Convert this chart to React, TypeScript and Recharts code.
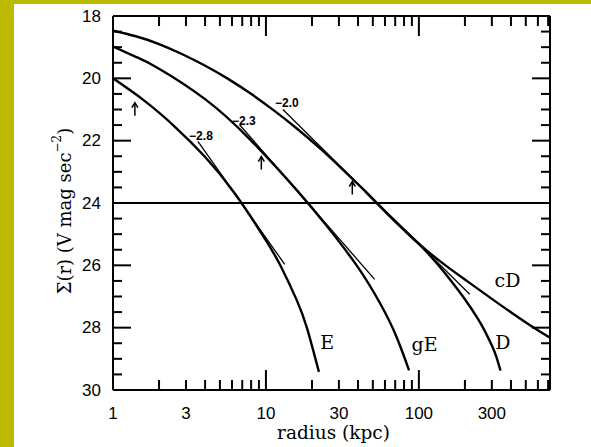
import React from "react";
import { LineChart, Line, XAxis, YAxis, ReferenceLine, ReferenceDot } from "recharts";

// surface-brightness profiles, radius in kpc vs V mag arcsec^-2
const eR = [1, 1.585, 2.51, 3.98, 6.31, 10, 12.6, 15.85, 18.6, 22.2];
const eMag = [20.0, 20.7, 21.53, 22.51, 23.72, 25.2, 26.06, 27.1, 28.03, 29.42];

const gER = [1, 1.41, 2, 3.98, 7.94, 15.85, 25.1, 39.8, 56.2, 70.8, 86.3];
const gEMag = [18.98, 19.31, 19.69, 20.66, 21.98, 23.58, 24.75, 26.05, 27.25, 28.25, 29.37];

const cDR = [1, 1.41, 2, 2.82, 3.98, 5.62, 7.94, 11.2, 15.85, 22.4, 31.6, 44.7, 63.1, 98.5, 150, 210, 330, 536, 720];
const cDMag = [18.47, 18.65, 18.9, 19.22, 19.59, 20.01, 20.49, 21.02, 21.6, 22.23, 22.91, 23.63, 24.37, 25.28, 26.01, 26.53, 27.22, 27.93, 28.32];

// D follows cD in the inner part, then drops
const dR = [44.7, 63.1, 98.5, 130, 165, 200, 240, 270, 300, 320, 342];
const dMag = [23.63, 24.37, 25.28, 25.92, 26.54, 27.09, 27.67, 28.11, 28.57, 28.91, 29.38];

// power-law tangents
const tangentNames = ["−2.8", "−2.3", "−2.0"];
const tangentR = [[3.59, 13.27], [6.72, 51.4], [12.9, 215]];
const tangentMag = [[22.02, 25.97], [21.49, 26.45], [21.0, 26.93]];
const tangentLabelR = [3.76, 7.18, 13.7];
const tangentLabelMag = [21.84, 21.36, 20.78];

const arrowR = [1.39, 9.33, 36.7];
const arrowMag = [20.78, 22.51, 23.31];

const typeNames = ["E", "gE", "D", "cD"];
const typeLabelR = [25.1, 109, 354, 380];
const typeLabelMag = [28.46, 28.53, 28.46, 26.48];

const xTicks = [1, 2, 3, 4, 5, 6, 7, 8, 9, 10, 20, 30, 40, 50, 60, 70, 80, 90, 100, 200, 300, 400, 500, 600, 700];
const xMajor = [1, 10, 100];
const xTickLabels = [1, 3, 10, 30, 100, 300];
const yTicks = [18, 18.5, 19, 19.5, 20, 20.5, 21, 21.5, 22, 22.5, 23, 23.5, 24, 24.5, 25, 25.5, 26, 26.5, 27, 27.5, 28, 28.5, 29, 29.5, 30];
const yTickLabels = [18, 20, 22, 24, 26, 28, 30];

const toPoints = (rs: number[], ms: number[]) => rs.map((r, i) => ({ r, mag: ms[i] }));

const tickFont = { fontFamily: "Liberation Sans, Arial, sans-serif", fontSize: 17, fill: "#000" };
const serif = "DejaVu Serif, serif";

function XTick({ x, y, payload, top }: any) {
  const v = payload.value;
  const len = xMajor.includes(v) ? 20 : 10;
  const dir = top ? 1 : -1;
  return (
    <g>
      <line x1={x} y1={y} x2={x} y2={y + dir * len} stroke="#000" strokeWidth={2} />
      {!top && xTickLabels.includes(v) && (
        <text x={x} y={y + 28.5} textAnchor="middle" {...tickFont}>
          {v}
        </text>
      )}
    </g>
  );
}

function YTick({ x, y, payload, right }: any) {
  const v = payload.value;
  const len = v % 2 === 0 ? 18 : 9;
  const dir = right ? -1 : 1;
  return (
    <g>
      <line x1={x} y1={y} x2={x + dir * len} y2={y} stroke="#000" strokeWidth={2} />
      {!right && yTickLabels.includes(v) && (
        <text x={x - 12} y={y} textAnchor="end" dominantBaseline="central" {...tickFont}>
          {v}
        </text>
      )}
    </g>
  );
}

function YTitle({ viewBox }: any) {
  const cx = viewBox.x + 50;
  const cy = viewBox.y + viewBox.height / 2 + 8;
  return (
    <text
      x={cx}
      y={cy}
      transform={`rotate(-90, ${cx}, ${cy})`}
      textAnchor="middle"
      dominantBaseline="central"
      fontFamily={serif}
      fontSize={18}
      fill="#000"
    >
      Σ(r) (V mag sec
      <tspan dy={-7} fontSize={12}>−2</tspan>
      <tspan dy={7}>)</tspan>
    </text>
  );
}

function XTitle({ viewBox }: any) {
  return (
    <text
      x={viewBox.x + viewBox.width / 2 + 2}
      y={viewBox.y + 49}
      textAnchor="middle"
      fontFamily={serif}
      fontSize={18.5}
      fill="#000"
    >
      radius (kpc)
    </text>
  );
}

export default function App() {
  const curves = [
    toPoints(eR, eMag),
    toPoints(gER, gEMag),
    toPoints(cDR, cDMag),
    toPoints(dR, dMag),
  ];

  return (
    <div style={{ position: "absolute", left: 0, top: 0, width: 591, height: 447, background: "#bdb800" }}>
      <div style={{ position: "absolute", left: 14, top: 4, width: 577, height: 443, background: "#fff" }}>
        <LineChart width={577} height={443} margin={{ top: 0, right: 0, bottom: 0, left: 0 }}>
          <XAxis
            xAxisId="b"
            dataKey="r"
            type="number"
            scale="log"
            domain={[1, 720]}
            allowDataOverflow
            ticks={xTicks}
            interval={0}
            tickSize={0}
            tickMargin={0}
            tick={<XTick />}
            axisLine={{ stroke: "#000", strokeWidth: 2 }}
            height={57}
            label={<XTitle />}
          />
          <XAxis
            xAxisId="t"
            orientation="top"
            dataKey="r"
            type="number"
            scale="log"
            domain={[1, 720]}
            allowDataOverflow
            ticks={xTicks}
            interval={0}
            tickSize={0}
            tickMargin={0}
            tick={<XTick top />}
            axisLine={{ stroke: "#000", strokeWidth: 2 }}
            height={12}
          />
          <YAxis
            yAxisId="l"
            type="number"
            domain={[18, 30]}
            reversed
            allowDataOverflow
            ticks={yTicks}
            interval={0}
            tickSize={0}
            tickMargin={0}
            tick={<YTick />}
            axisLine={{ stroke: "#000", strokeWidth: 2 }}
            width={99}
            label={<YTitle />}
          />
          <YAxis
            yAxisId="r"
            orientation="right"
            type="number"
            domain={[18, 30]}
            reversed
            allowDataOverflow
            ticks={yTicks}
            interval={0}
            tickSize={0}
            tickMargin={0}
            tick={<YTick right />}
            axisLine={{ stroke: "#000", strokeWidth: 2 }}
            width={41}
          />

          <ReferenceLine xAxisId="t" yAxisId="r" y={24} stroke="#000" strokeWidth={1.8} />

          {curves.map((pts, i) => (
            <Line
              key={"c" + i}
              xAxisId="b"
              yAxisId="l"
              data={pts}
              dataKey="mag"
              type="natural"
              stroke="#000"
              strokeWidth={2.4}
              dot={false}
              isAnimationActive={false}
            />
          ))}

          {tangentR.map((rs, i) => (
            <Line
              key={"t" + i}
              xAxisId="b"
              yAxisId="l"
              data={toPoints(rs, tangentMag[i])}
              dataKey="mag"
              type="linear"
              stroke="#000"
              strokeWidth={1.3}
              dot={false}
              isAnimationActive={false}
            />
          ))}

          {tangentNames.map((name, i) => (
            <ReferenceDot
              key={"tl" + i}
              xAxisId="b"
              yAxisId="l"
              x={tangentLabelR[i]}
              y={tangentLabelMag[i]}
              shape={(p: any) => (
                <text
                  x={p.cx}
                  y={p.cy}
                  textAnchor="middle"
                  dominantBaseline="central"
                  fontFamily="Liberation Sans, Arial, sans-serif"
                  fontSize={12}
                  fontWeight="bold"
                  fill="#000"
                >
                  {name}
                </text>
              )}
            />
          ))}

          {arrowR.map((r, i) => (
            <ReferenceDot
              key={"a" + i}
              xAxisId="b"
              yAxisId="l"
              x={r}
              y={arrowMag[i]}
              shape={(p: any) => (
                <g stroke="#000" strokeWidth={1.5} fill="none">
                  <line x1={p.cx} y1={p.cy} x2={p.cx} y2={p.cy + 13} />
                  <polyline points={`${p.cx - 3},${p.cy + 5} ${p.cx},${p.cy} ${p.cx + 3},${p.cy + 5}`} />
                </g>
              )}
            />
          ))}

          {typeNames.map((name, i) => (
            <ReferenceDot
              key={"n" + i}
              xAxisId="b"
              yAxisId="l"
              x={typeLabelR[i]}
              y={typeLabelMag[i]}
              shape={(p: any) => (
                <text
                  x={p.cx}
                  y={p.cy}
                  textAnchor="middle"
                  dominantBaseline="central"
                  fontFamily={serif}
                  fontSize={19}
                  fill="#000"
                >
                  {name}
                </text>
              )}
            />
          ))}
        </LineChart>
      </div>
    </div>
  );
}
